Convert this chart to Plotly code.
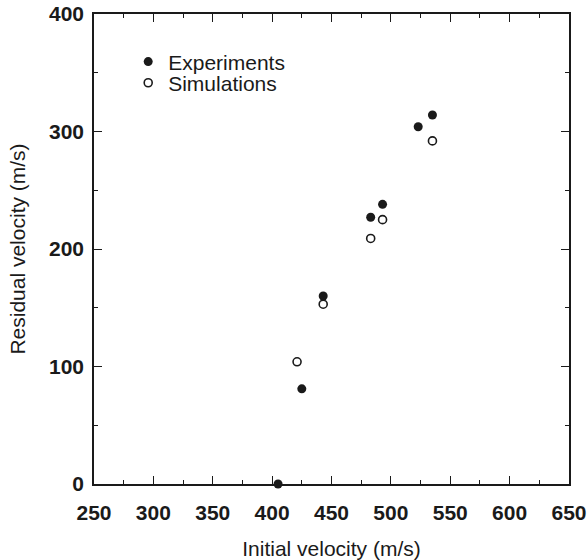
import plotly.graph_objects as go

exp_x = [405, 425, 443, 483, 493, 523, 535]
exp_y = [0, 81, 160, 227, 238, 304, 314]
sim_x = [421, 443, 483, 493, 535]
sim_y = [104, 153, 209, 225, 292]

FONT = "Arial, Liberation Sans, sans-serif"
INK = "#1a1a1a"
FS = 21

fig = go.Figure()
fig.add_trace(go.Scatter(x=exp_x, y=exp_y, mode="markers", name="Experiments", legend="legend",
                         marker=dict(symbol="circle", size=9, color=INK, line=dict(width=0)),
                         cliponaxis=False))
fig.add_trace(go.Scatter(x=sim_x, y=sim_y, mode="markers", name="Simulations", legend="legend2",
                         marker=dict(symbol="circle", size=8, color="white", line=dict(width=1.6, color=INK)),
                         cliponaxis=False))

axis_common = dict(showgrid=False, zeroline=False, showline=True, linecolor=INK, linewidth=1.5,
                   ticks="inside", ticklen=8, tickwidth=1.3, tickcolor=INK, mirror="allticks",
                   tickfont=dict(family=FONT, size=FS, color=INK, weight="bold"),
                   minor=dict(ticks="inside", ticklen=4, tickwidth=1.2, tickcolor=INK))

fig.update_xaxes(range=[250, 650], tickvals=[250, 300, 350, 400, 450, 500, 550, 600, 650],
                 minor_dtick=25, minor_tick0=250, ticklabelstandoff=9,
                 title=dict(text="Initial velocity (m/s)", font=dict(family=FONT, size=FS, color=INK), standoff=21),
                 **axis_common)
fig.update_yaxes(range=[0, 400], tickvals=[0, 100, 200, 300, 400],
                 minor_dtick=50, minor_tick0=0, ticklabelstandoff=4,
                 title=dict(text="Residual velocity (m/s)", font=dict(family=FONT, size=FS, color=INK), standoff=18),
                 **axis_common)

leg_common = dict(xanchor="left", yanchor="middle", bgcolor="rgba(0,0,0,0)",
                  font=dict(family=FONT, size=FS, color=INK), itemwidth=30, itemclick=False,
                  borderwidth=0)
fig.update_layout(width=587, height=560, margin=dict(l=94, r=18, t=14, b=76, autoexpand=False),
                  plot_bgcolor="white", paper_bgcolor="white",
                  showlegend=True,
                  legend=dict(x=0.072, y=0.898, **leg_common),
                  legend2=dict(x=0.072, y=0.853, **leg_common))
fig.write_html("out.html")
